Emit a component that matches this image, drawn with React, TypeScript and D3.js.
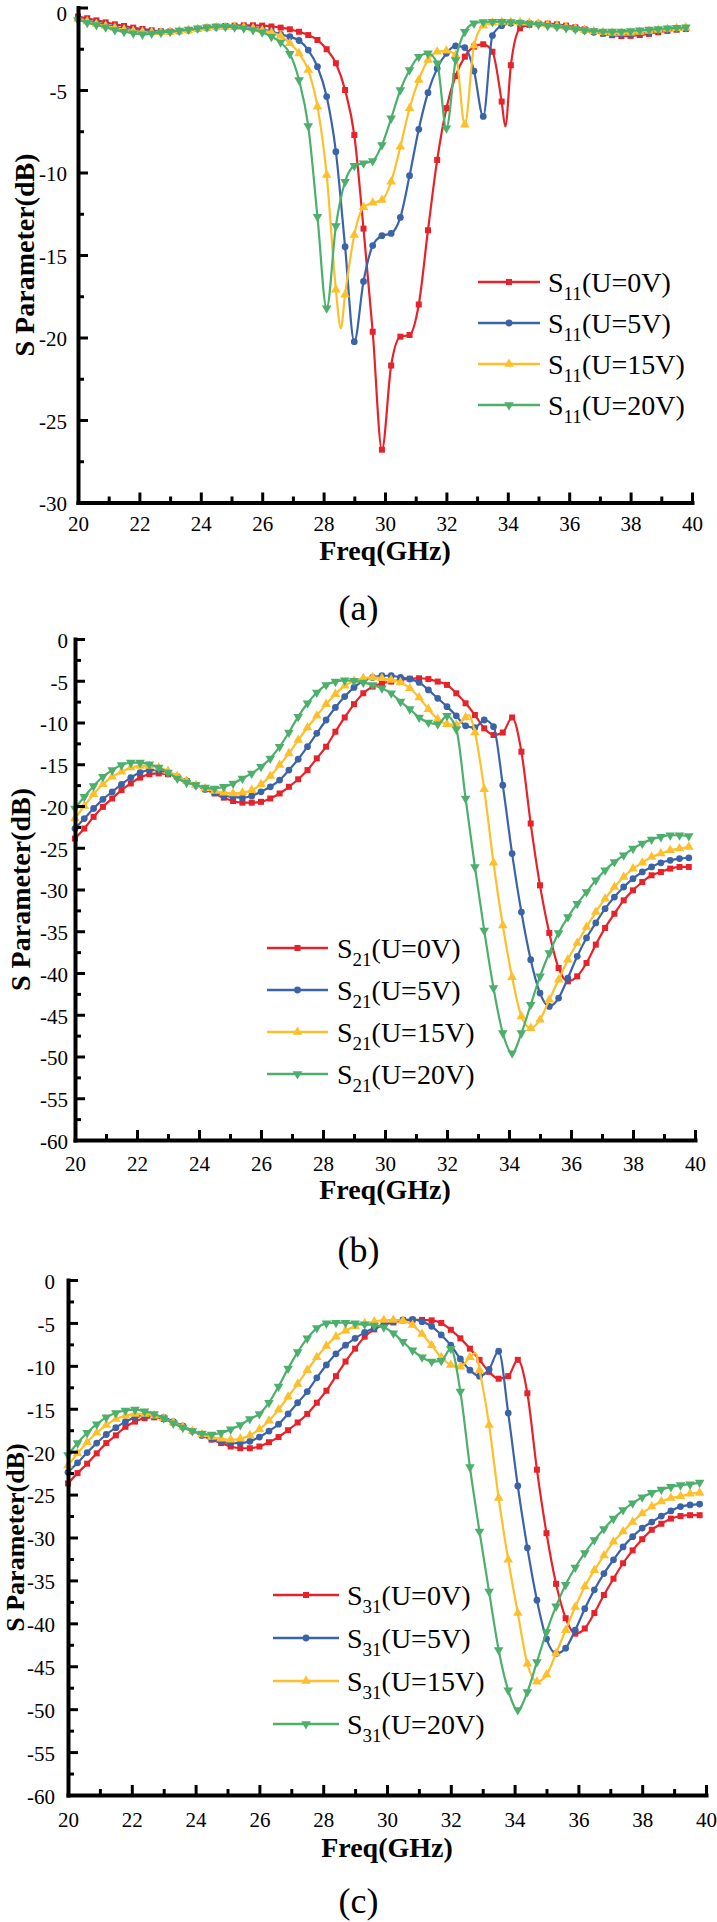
import { useEffect, useRef } from 'react';
import * as d3 from 'd3';

// sampled frequencies (GHz), one marker per sample
const FREQ = [
  20.0, 20.3, 20.6, 20.9, 21.2, 21.5, 21.8, 22.1, 22.4, 22.7,
  23.0, 23.3, 23.6, 23.9, 24.2, 24.5, 24.8, 25.1, 25.4, 25.7,
  26.0, 26.3, 26.6, 26.9, 27.2, 27.5, 27.8, 28.1, 28.4, 28.7,
  29.0, 29.3, 29.6, 29.9, 30.2, 30.5, 30.8, 31.1, 31.4, 31.7,
  32.0, 32.3, 32.6, 32.9, 33.2, 33.5, 33.8, 34.1, 34.4, 34.7,
  35.0, 35.3, 35.6, 35.9, 36.2, 36.5, 36.8, 37.1, 37.4, 37.7,
  38.0, 38.3, 38.6, 38.9, 39.2, 39.5, 39.8,
];

// (a) S11
const S11_0V = [
  -0.55, -0.65, -0.78, -0.9, -1.02, -1.12, -1.22, -1.3, -1.38, -1.44,
  -1.46, -1.44, -1.38, -1.3, -1.22, -1.16, -1.12, -1.1, -1.08, -1.08,
  -1.1, -1.15, -1.22, -1.32, -1.47, -1.67, -1.97, -2.53, -3.38, -5.0,
  -7.73, -13.4, -19.65, -26.8, -21.7, -19.95, -19.85, -18.0, -13.5, -9.24,
  -6.1, -4.15, -2.98, -2.37, -2.23, -2.68, -5.7, -3.5, -1.26, -1.05,
  -0.98, -0.98, -1.02, -1.1, -1.2, -1.32, -1.45, -1.58, -1.68, -1.73,
  -1.72, -1.67, -1.6, -1.5, -1.42, -1.35, -1.3,
];
const S11_5V = [
  -0.7, -0.82, -0.95, -1.07, -1.18, -1.28, -1.36, -1.42, -1.46, -1.47,
  -1.46, -1.42, -1.36, -1.3, -1.24, -1.2, -1.17, -1.16, -1.18, -1.22,
  -1.32, -1.45, -1.63, -1.77, -2.0, -2.58, -3.59, -5.4, -8.74, -14.5,
  -20.25, -16.6, -14.43, -13.83, -13.69, -12.72, -10.19, -7.38, -5.16, -3.69,
  -2.78, -2.33, -2.43, -3.85, -6.6, -1.7, -1.1, -0.95, -0.92, -0.95,
  -1.0, -1.05, -1.12, -1.2, -1.3, -1.4, -1.5, -1.58, -1.62, -1.63,
  -1.6, -1.55, -1.48, -1.4, -1.33, -1.28, -1.25,
];
const S11_15V = [
  -0.7, -0.85, -1.0, -1.12, -1.24, -1.34, -1.42, -1.48, -1.5, -1.5,
  -1.48, -1.43, -1.37, -1.3, -1.24, -1.2, -1.18, -1.18, -1.2, -1.27,
  -1.38, -1.52, -1.73, -2.17, -2.78, -3.79, -6.01, -10.15, -17.1, -17.4,
  -13.79, -12.11, -11.83, -11.67, -10.56, -8.44, -6.11, -4.39, -3.18, -2.68,
  -2.62, -2.88, -7.1, -2.3, -1.1, -0.92, -0.88, -0.88, -0.9, -0.93,
  -0.98, -1.04, -1.1, -1.18, -1.27, -1.36, -1.44, -1.5, -1.54, -1.55,
  -1.53, -1.48, -1.42, -1.36, -1.3, -1.26, -1.22,
];
const S11_20V = [
  -0.76, -0.92, -1.06, -1.2, -1.36, -1.47, -1.56, -1.63, -1.58, -1.52,
  -1.47, -1.4, -1.33, -1.26, -1.2, -1.16, -1.16, -1.2, -1.26, -1.36,
  -1.5, -1.77, -2.1, -2.8, -4.39, -7.18, -12.68, -18.23, -13.24, -10.56,
  -9.59, -9.44, -9.3, -8.33, -6.72, -5.0, -3.79, -2.98, -2.78, -3.38,
  -7.32, -3.18, -1.47, -0.96, -0.88, -0.86, -0.86, -0.88, -0.92, -0.97,
  -1.03, -1.1, -1.17, -1.24, -1.31, -1.37, -1.42, -1.45, -1.46, -1.45,
  -1.42, -1.38, -1.34, -1.3, -1.26, -1.23, -1.2,
];

// (b) S21
const S21_0V = [
  -23.9, -22.7, -21.3, -20.1, -19.1, -18.1, -17.3, -16.6, -16.2, -16.1,
  -16.2, -16.5, -17.0, -17.5, -18.0, -18.5, -19.0, -19.4, -19.6, -19.6,
  -19.5, -19.1, -18.5, -17.7, -16.8, -15.7, -14.3, -12.9, -11.1, -9.4,
  -7.8, -6.5, -5.7, -5.3, -5.1, -4.9, -4.75, -4.7, -4.8, -5.1,
  -5.5, -6.5, -7.7, -9.1, -10.7, -11.5, -11.2, -9.4, -13.5, -22.1,
  -29.5, -35.2, -39.4, -41.0, -40.4, -38.8, -36.6, -34.6, -32.9, -31.3,
  -30.1, -29.1, -28.3, -27.9, -27.5, -27.3, -27.3,
];
const S21_5V = [
  -22.7, -21.5, -20.3, -19.2, -18.3, -17.4, -16.6, -16.0, -15.7, -15.7,
  -16.0, -16.5, -17.0, -17.5, -18.0, -18.4, -18.8, -18.9, -19.0, -18.8,
  -18.3, -17.7, -16.9, -15.7, -14.4, -12.9, -11.3, -9.7, -8.2, -6.9,
  -5.8, -5.0, -4.6, -4.4, -4.4, -4.6, -4.8, -5.2, -6.1, -7.1,
  -8.1, -9.2, -10.4, -10.6, -9.7, -10.5, -17.5, -25.7, -32.7, -38.4,
  -42.4, -44.0, -43.0, -40.6, -38.0, -35.8, -34.0, -32.3, -30.9, -29.7,
  -28.7, -27.9, -27.3, -26.8, -26.5, -26.3, -26.2,
];
const S21_15V = [
  -21.5, -20.0, -18.6, -17.4, -16.5, -15.9, -15.4, -15.2, -15.2, -15.4,
  -15.8, -16.4, -17.0, -17.5, -17.9, -18.2, -18.4, -18.5, -18.4, -18.1,
  -17.4, -16.4, -15.1, -13.7, -12.1, -10.6, -9.2, -7.8, -6.6, -5.6,
  -5.0, -4.7, -4.6, -4.7, -4.9, -5.2, -5.9, -7.0, -8.4, -9.6,
  -10.2, -10.3, -9.4, -11.2, -18.0, -26.8, -34.3, -40.5, -45.2, -46.6,
  -45.6, -43.2, -40.8, -38.4, -36.4, -34.5, -32.7, -31.1, -29.7, -28.5,
  -27.5, -26.8, -26.1, -25.7, -25.3, -25.1, -24.9,
];
const S21_20V = [
  -20.3, -18.9, -17.6, -16.5, -15.7, -15.1, -14.8, -14.8, -15.0, -15.4,
  -16.0, -16.7, -17.2, -17.5, -17.8, -17.9, -17.7, -17.3, -16.7, -16.1,
  -15.3, -14.3, -12.9, -11.2, -9.3, -7.7, -6.4, -5.5, -5.1, -4.95,
  -5.0, -5.2, -5.5, -5.9, -6.5, -7.5, -8.4, -9.4, -10.0, -10.2,
  -9.2, -10.8, -19.1, -27.3, -34.9, -41.8, -47.2, -49.6, -47.2, -43.8,
  -40.4, -37.6, -35.2, -33.3, -31.7, -30.3, -28.9, -27.7, -26.7, -25.9,
  -25.1, -24.5, -24.0, -23.7, -23.5, -23.5, -23.6,
];

// (c) S31
const S31_0V = [
  -23.7, -22.5, -21.4, -20.2, -19.0, -18.1, -17.1, -16.5, -16.1, -16.0,
  -16.2, -16.6, -17.1, -17.6, -18.1, -18.6, -19.0, -19.4, -19.6, -19.6,
  -19.4, -18.9, -18.3, -17.5, -16.6, -15.6, -14.3, -12.9, -11.2, -9.5,
  -8.0, -6.6, -5.75, -5.2, -4.95, -4.7, -4.65, -4.65, -4.7, -5.0,
  -5.8, -6.8, -8.0, -9.3, -10.7, -11.5, -11.2, -9.3, -13.2, -22.1,
  -29.5, -35.4, -39.4, -41.2, -40.6, -38.8, -36.7, -34.8, -33.0, -31.5,
  -30.2, -29.1, -28.4, -27.8, -27.5, -27.4, -27.4,
];
const S31_5V = [
  -22.4, -21.3, -20.1, -19.0, -18.0, -17.2, -16.5, -16.0, -15.8, -15.8,
  -16.0, -16.5, -17.0, -17.6, -18.1, -18.5, -18.8, -19.0, -19.0, -18.8,
  -18.3, -17.6, -16.8, -15.6, -14.3, -13.0, -11.4, -9.9, -8.6, -7.6,
  -6.8, -6.1, -5.6, -5.2, -4.85, -4.65, -4.6, -4.85, -5.4, -6.4,
  -7.6, -9.2, -10.5, -11.2, -10.4, -8.3, -15.5, -24.0, -31.2, -37.3,
  -41.8, -43.5, -42.9, -40.8, -38.3, -36.1, -34.2, -32.6, -31.1, -29.9,
  -28.9, -28.2, -27.5, -26.9, -26.4, -26.2, -26.1,
];
const S31_15V = [
  -21.6, -20.2, -18.9, -17.8, -16.9, -16.2, -15.8, -15.6, -15.6, -15.8,
  -16.1, -16.6, -17.1, -17.6, -18.0, -18.3, -18.5, -18.6, -18.5, -18.1,
  -17.4, -16.4, -15.1, -13.6, -12.1, -10.5, -9.0, -7.7, -6.6, -5.9,
  -5.4, -5.05, -4.85, -4.66, -4.66, -4.74, -5.25, -6.3, -7.6, -9.0,
  -9.9, -10.1, -9.0, -10.5, -16.9, -25.4, -32.6, -38.8, -44.7, -46.8,
  -46.0, -43.5, -40.8, -38.1, -35.7, -33.8, -32.1, -30.5, -29.3, -28.2,
  -27.2, -26.4, -25.8, -25.4, -25.2, -24.9, -24.8,
];
const S31_20V = [
  -20.4, -19.0, -17.8, -16.8, -16.0, -15.5, -15.2, -15.1, -15.3, -15.6,
  -16.1, -16.7, -17.2, -17.6, -17.9, -18.0, -17.8, -17.4, -16.9, -16.2,
  -15.6, -14.3, -12.4, -10.3, -8.4, -6.8, -5.6, -5.05, -4.97, -4.97,
  -5.05, -5.15, -5.3, -5.5, -6.2, -7.2, -8.2, -9.0, -9.5, -9.4,
  -8.0, -13.0, -21.8, -29.3, -36.3, -43.1, -47.8, -50.1, -48.0, -44.5,
  -41.0, -38.0, -35.5, -33.5, -31.8, -30.3, -29.0, -27.8, -26.8, -26.0,
  -25.3, -24.8, -24.4, -24.1, -23.9, -23.8, -23.6,
];

// narrow dips / peaks between samples: drawn by the line, no marker
const S11_EXTRA: [number, number][][] = [[[33.92, -7.2]], [], [[28.56, -19.45]], []];
const S21_EXTRA: [number, number][][] = [[], [], [[32.7, -9.1]], []];
const S31_EXTRA: [number, number][][] = [[], [], [[32.78, -8.5]], []];

const VOLTAGES = ['U=0V', 'U=5V', 'U=15V', 'U=20V'];
const COLORS = ['#e6222a', '#3b63a7', '#fdbf2b', '#4caf6c'];
const X_TICKS = [20, 22, 24, 26, 28, 30, 32, 34, 36, 38, 40];
const X_MINOR = [21, 23, 25, 27, 29, 31, 33, 35, 37, 39];
const S11_TICKS = [0, -5, -10, -15, -20, -25, -30];
const S21_TICKS = [0, -5, -10, -15, -20, -25, -30, -35, -40, -45, -50, -55, -60];

const FONT = "'Liberation Serif', 'Times New Roman', 'DejaVu Serif', serif";

interface Panel {
  series: number[][];
  extra: [number, number][][];
  sub: string;
  yTicks: number[];
  left: number; right: number; top: number; bottom: number;
  xPad: number; yPad: number;
  yLabelX: number; yLabelSize: number; xLabelY: number;
  caption: string; captionY: number;
  legendX: [number, number, number];
  legendRows: number[];
}

const PANELS: Panel[] = [
  {
    series: [S11_0V, S11_5V, S11_15V, S11_20V], extra: S11_EXTRA, sub: '11', yTicks: S11_TICKS,
    left: 78, right: 692, top: 7.5, bottom: 502.5, xPad: 14, yPad: 11,
    yLabelX: 34, yLabelSize: 28, xLabelY: 560, caption: '(a)', captionY: 620,
    legendX: [478, 540, 548], legendRows: [282, 323, 364, 405],
  },
  {
    series: [S21_0V, S21_5V, S21_15V, S21_20V], extra: S21_EXTRA, sub: '21', yTicks: S21_TICKS,
    left: 75, right: 695, top: 639, bottom: 1140, xPad: 16, yPad: 7,
    yLabelX: 30, yLabelSize: 28, xLabelY: 1199, caption: '(b)', captionY: 1262,
    legendX: [267, 328, 337], legendRows: [948, 990, 1032, 1074],
  },
  {
    series: [S31_0V, S31_5V, S31_15V, S31_20V], extra: S31_EXTRA, sub: '31', yTicks: S21_TICKS,
    left: 68, right: 706, top: 1280, bottom: 1795, xPad: 17, yPad: 13,
    yLabelX: 24, yLabelSize: 26, xLabelY: 1857, caption: '(c)', captionY: 1913,
    legendX: [273, 339, 347], legendRows: [1595, 1638, 1681, 1724],
  },
];

const SYMBOLS = [d3.symbolSquare, d3.symbolCircle, d3.symbolTriangle, d3.symbolTriangle];
const SYMBOL_SIZE = [36, 36, 40, 40];

function marker(g: d3.Selection<SVGGElement, unknown, null, undefined>, i: number, cx: number, cy: number) {
  g.append('path')
    .attr('d', d3.symbol().type(SYMBOLS[i]).size(SYMBOL_SIZE[i])() as string)
    .attr('transform', `translate(${cx},${cy})${i === 3 ? ' rotate(180)' : ''}`)
    .attr('fill', COLORS[i]);
}

function drawPanel(svg: d3.Selection<SVGSVGElement, unknown, null, undefined>, p: Panel) {
  const x = d3.scaleLinear().domain([20, 40]).range([p.left, p.right]);
  const yMin = p.yTicks[p.yTicks.length - 1];
  const y = d3.scaleLinear().domain([yMin, 0]).range([p.bottom, p.top]);

  // Curves
  const line = d3.line<[number, number]>()
    .x(d => x(d[0]))
    .y(d => y(d[1]))
    .curve(d3.curveMonotoneX);

  p.series.forEach((vals, i) => {
    const pts: [number, number][] = FREQ.map((f, k) => [f, vals[k]] as [number, number])
      .concat(p.extra[i])
      .sort((a, b) => a[0] - b[0]);
    svg.append('path')
      .datum(pts)
      .attr('fill', 'none')
      .attr('stroke', COLORS[i])
      .attr('stroke-width', 2.2)
      .attr('d', line);
    const g = svg.append('g');
    FREQ.forEach((f, k) => marker(g, i, x(f), y(vals[k])));
  });

  // Axes, ticks pointing inward
  const minorY = p.yTicks.slice(1).map(t => t + 2.5);

  const gx = svg.append('g')
    .attr('transform', `translate(0,${p.bottom})`)
    .call(d3.axisBottom(x).tickValues(X_TICKS).tickSizeInner(-10).tickSizeOuter(0)
      .tickPadding(p.xPad).tickFormat(d => String(d)));
  svg.append('g')
    .attr('transform', `translate(0,${p.bottom})`)
    .call(d3.axisBottom(x).tickValues(X_MINOR).tickSize(-6).tickFormat(() => ''))
    .call(g => g.select('.domain').remove());

  const gy = svg.append('g')
    .attr('transform', `translate(${p.left},0)`)
    .call(d3.axisLeft(y).tickValues(p.yTicks).tickSizeInner(-10).tickSizeOuter(0)
      .tickPadding(p.yPad).tickFormat(d => String(d)));
  svg.append('g')
    .attr('transform', `translate(${p.left},0)`)
    .call(d3.axisLeft(y).tickValues(minorY).tickSize(-6).tickFormat(() => ''))
    .call(g => g.select('.domain').remove());

  svg.selectAll('.domain')
    .attr('stroke', '#000')
    .attr('stroke-width', 4)
    .attr('stroke-linecap', 'square');
  svg.selectAll('.tick line').attr('stroke', '#000').attr('stroke-width', 3);
  [gx, gy].forEach(g => g.selectAll('text')
    .style('font-family', FONT)
    .style('font-size', '21px')
    .attr('fill', '#000'));
  // the top "0" sits right at the page edge; keep it inside
  gy.selectAll<SVGTextElement, number>('text')
    .attr('dy', d => (y(d) < 14 ? '0.62em' : '0.4em'));

  // Labels
  svg.append('text')
    .attr('transform', `translate(${p.yLabelX},${(p.top + p.bottom) / 2}) rotate(-90)`)
    .attr('text-anchor', 'middle')
    .style('font-family', FONT)
    .style('font-weight', 'bold')
    .style('font-size', `${p.yLabelSize}px`)
    .text('S Parameter(dB)');

  svg.append('text')
    .attr('x', (p.left + p.right) / 2)
    .attr('y', p.xLabelY)
    .attr('text-anchor', 'middle')
    .style('font-family', FONT)
    .style('font-weight', 'bold')
    .style('font-size', '28px')
    .text('Freq(GHz)');

  svg.append('text')
    .attr('x', 358.5)
    .attr('y', p.captionY)
    .attr('text-anchor', 'middle')
    .style('font-family', FONT)
    .style('font-size', '36px')
    .text(p.caption);

  // Legend
  const [x1, x2, tx] = p.legendX;
  p.legendRows.forEach((ry, i) => {
    const g = svg.append('g');
    g.append('line')
      .attr('x1', x1).attr('x2', x2)
      .attr('y1', ry).attr('y2', ry)
      .attr('stroke', COLORS[i])
      .attr('stroke-width', 2.5);
    marker(g, i, (x1 + x2) / 2, ry);
    const t = g.append('text')
      .attr('x', tx)
      .attr('y', ry + 10)
      .style('font-family', FONT)
      .style('font-size', '28px');
    t.append('tspan').text('S');
    t.append('tspan').style('font-size', '19px').attr('dy', 8).text(p.sub);
    t.append('tspan').attr('dy', -8).text(`(${VOLTAGES[i]})`);
  });
}

export default function App() {
  const svgRef = useRef<SVGSVGElement>(null);

  useEffect(() => {
    if (!svgRef.current) return;
    const svg = d3.select(svgRef.current);
    svg.selectAll('*').remove();
    PANELS.forEach(p => drawPanel(svg, p));
  }, []);

  return (
    <div style={{ position: 'absolute', left: 0, top: 0, background: '#fff' }}>
      <svg ref={svgRef} width={717} height={1922} style={{ display: 'block' }} />
    </div>
  );
}
